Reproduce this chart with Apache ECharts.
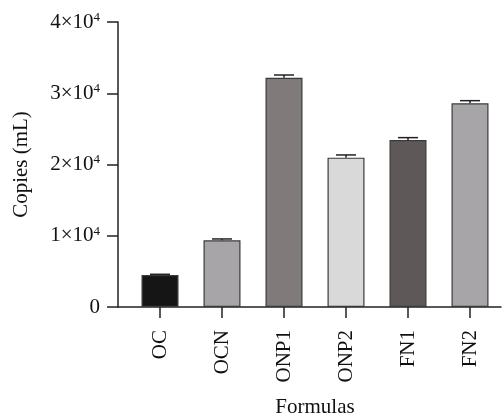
<!DOCTYPE html>
<html>
<head>
<meta charset="utf-8">
<script src="https://cdn.jsdelivr.net/npm/echarts@6/dist/echarts.min.js"></script>
<style>
  html, body { margin: 0; padding: 0; background: #fff; }
  #chart { width: 502px; height: 413px; }
</style>
</head>
<body>
<div id="chart"></div>
<script>
// data
var categories = ['OC', 'OCN', 'ONP1', 'ONP2', 'FN1', 'FN2'];
var copies = [4490, 9360, 32180, 20960, 23440, 28590];
var errors = [100, 190, 380, 380, 330, 370];
var barColors = ['#151515', '#a7a5a8', '#807b7a', '#d9d9d9', '#5e5958', '#a7a5a8'];
var yTicks = [0, 10000, 20000, 30000, 40000];

var font = 'Liberation Serif';
var ink = '#222';

var chart = echarts.init(document.getElementById('chart'), null, { renderer: 'canvas' });

var option = {
  backgroundColor: '#ffffff',
  animation: false,
  grid: [
    // grid 0 only carries the x axis line starting at the y axis
    { left: 118, right: 1, top: 22, bottom: 106, outerBoundsMode: 'none', containLabel: false },
    { left: 129, right: 1, top: 22, bottom: 106, outerBoundsMode: 'none', containLabel: false }
  ],
  xAxis: [
    {
      gridIndex: 0, type: 'value', min: 0, max: 1,
      axisLine: { show: true, lineStyle: { color: ink, width: 1.5 } },
      axisTick: { show: false }, axisLabel: { show: false }, splitLine: { show: false }
    },
    {
      gridIndex: 1, type: 'category', data: categories,
      axisLine: { show: false },
      axisTick: { show: true, alignWithLabel: true, length: 11, lineStyle: { color: ink, width: 1.5 } },
      axisLabel: { rotate: 90, margin: 23, color: '#111', fontFamily: font, fontSize: 21 },
      name: 'Formulas', nameLocation: 'middle', nameGap: 90,
      nameTextStyle: { color: '#111', fontFamily: font, fontSize: 21 }
    }
  ],
  yAxis: [
    {
      gridIndex: 0, type: 'value', min: 0, max: 40000, show: false
    },
    {
      gridIndex: 1, type: 'value', min: 0, max: 40000, interval: 10000, offset: 11,
      axisLine: { show: true, lineStyle: { color: ink, width: 1.5 } },
      axisTick: { show: true, length: 11, lineStyle: { color: ink, width: 1.5 } },
      splitLine: { show: false },
      axisLabel: {
        margin: 18,
        color: '#111',
        formatter: function (v) {
          if (yTicks.indexOf(v) < 0) return '';
          if (v === 0) return '{n|0}';
          return '{n|' + (v / 10000) + '×10}{s|4}';
        },
        rich: {
          n: { fontFamily: font, fontSize: 21, color: '#111' },
          s: { fontFamily: font, fontSize: 13, color: '#111', verticalAlign: 'top', padding: [0, 0, 9, 0] }
        }
      },
      name: 'Copies (mL)', nameLocation: 'middle', nameGap: 86, nameRotate: 90,
      nameTextStyle: { color: '#111', fontFamily: font, fontSize: 21 }
    }
  ],
  series: [
    {
      type: 'bar', xAxisIndex: 1, yAxisIndex: 1,
      barWidth: 37,
      data: copies.map(function (v, i) {
        return { value: v, itemStyle: { color: barColors[i] } };
      }),
      itemStyle: { borderColor: '#3a3a3a', borderWidth: 1.2 },
      z: 2
    },
    {
      type: 'custom', xAxisIndex: 1, yAxisIndex: 1,
      data: copies.map(function (v, i) { return [i, v, errors[i]]; }),
      renderItem: function (params, api) {
        var i = api.value(0);
        var base = api.coord([i, api.value(1)]);
        var top = api.coord([i, api.value(1) + api.value(2)]);
        var hw = 10;
        var style = { stroke: ink, lineWidth: 1.5 };
        return {
          type: 'group',
          children: [
            { type: 'line', shape: { x1: base[0], y1: base[1], x2: top[0], y2: top[1] }, style: style },
            { type: 'line', shape: { x1: top[0] - hw, y1: top[1], x2: top[0] + hw, y2: top[1] }, style: style }
          ]
        };
      },
      z: 3
    }
  ]
};

chart.setOption(option);
</script>
</body>
</html>
